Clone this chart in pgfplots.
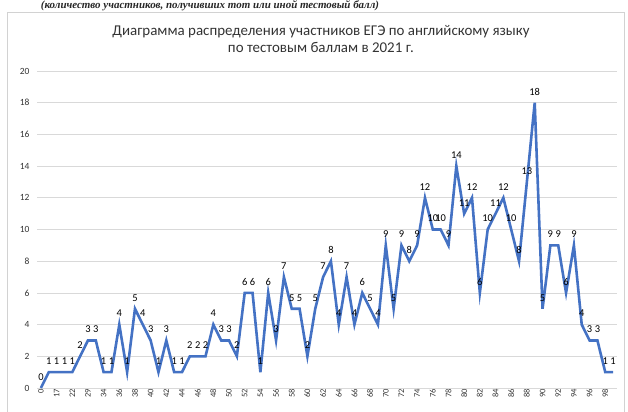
\documentclass[border=0pt]{standalone}
\usepackage{fontspec}
\setmainfont{Carlito}
\newfontfamily\serifit{Liberation Serif}
\usepackage{pgfplots}
\pgfplotsset{compat=1.18}
\definecolor{xlblue}{RGB}{68,114,196}
\begin{document}
\begin{tikzpicture}[x=1bp,y=1bp]
\useasboundingbox (0,0) rectangle (628,411);
\draw[gray!35, line width=0.75bp] (7,-2) rectangle (624,399);
\node[font=\serifit\bfseries\itshape\fontsize{11}{13}\selectfont, anchor=base, text=black!85] at (210,402) {(количество участников, получивших тот или иной тестовый балл)};
\node[font=\fontsize{15}{18}\selectfont, align=center, text=black!80] at (321,372) {Диаграмма распределения участников ЕГЭ по английскому языку\\по тестовым баллам в 2021 г.};
\begin{axis}[
  at={(37bp,23bp)}, anchor=south west, scale only axis,
  width=580bp, height=317bp,
  xmin=0.5, xmax=74.5, ymin=0, ymax=20,
  ytick={0,2,...,20},
  ymajorgrids, grid style={gray!30, line width=0.75bp},
  axis line style={draw=none}, tick style={draw=none},
  xtick={1,3,...,73},
  xticklabels={0,17,22,29,34,36,38,40,42,44,46,48,50,52,54,56,58,60,62,64,66,68,70,72,74,76,78,80,82,84,86,88,90,92,94,96,98},
  xticklabel style={rotate=90, anchor=east, font=\fontsize{8.5}{9}\selectfont, text=black!80, inner sep=1bp},
  yticklabel style={font=\fontsize{9.5}{10}\selectfont, text=black!80, xshift=-4bp},
  /pgf/number format/assume math mode=true,
  nodes near coords,
  every node near coord/.append style={font=\fontsize{10.5}{11}\selectfont, text=black, yshift=3bp},
  clip=false,
]
\addplot[xlblue, line width=2.6bp, mark=none] coordinates {
(1,0)(2,1)(3,1)(4,1)(5,1)(6,2)(7,3)(8,3)(9,1)(10,1)
(11,4)(12,1)(13,5)(14,4)(15,3)(16,1)(17,3)(18,1)(19,1)(20,2)
(21,2)(22,2)(23,4)(24,3)(25,3)(26,2)(27,6)(28,6)(29,1)(30,6)
(31,3)(32,7)(33,5)(34,5)(35,2)(36,5)(37,7)(38,8)(39,4)(40,7)
(41,4)(42,6)(43,5)(44,4)(45,9)(46,5)(47,9)(48,8)(49,9)(50,12)
(51,10)(52,10)(53,9)(54,14)(55,11)(56,12)(57,6)(58,10)(59,11)(60,12)
(61,10)(62,8)(63,13)(64,18)(65,5)(66,9)(67,9)(68,6)(69,9)(70,4)
(71,3)(72,3)(73,1)(74,1)
};
\end{axis}
\end{tikzpicture}
\end{document}
